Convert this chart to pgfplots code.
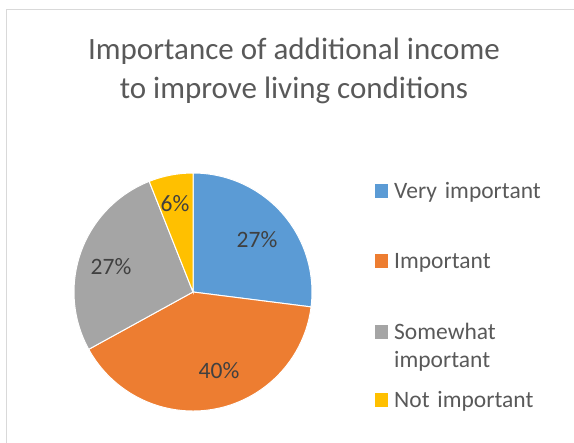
\documentclass[border=0pt]{standalone}
\usepackage{pgfplots}
\pgfplotsset{compat=1.18}
\usepackage{pgfplotstable}
\usepackage{fontspec}
\setmainfont{Carlito}
\hyphenpenalty=10000
\exhyphenpenalty=10000

\definecolor{vimp}{HTML}{5B9BD5}
\definecolor{imp}{HTML}{ED7D31}
\definecolor{swimp}{HTML}{A5A5A5}
\definecolor{nimp}{HTML}{FFC000}
\definecolor{titlegray}{HTML}{595959}
\definecolor{labelgray}{HTML}{404040}
\definecolor{framegray}{HTML}{D9D9D9}

\newcommand\titlefont{\fontsize{31bp}{38bp}\selectfont}
\newcommand\labelfont{\fontsize{23.5bp}{28bp}\selectfont}

% share (%), data label spot and legend baseline in pixels from top left
\pgfplotstableread{
name                   value lx  ly  legy col
{Very important}       27    257 247 198  vimp
{Important}            40    219 378 268  imp
{Somewhat important}   27    111 274 339  swimp
{Not important}        6     175 211 407  nimp
}\piedata

\begin{document}
\begin{tikzpicture}
\useasboundingbox (0,0) rectangle (574bp,443bp);
\begin{axis}[
    at={(0,0)}, anchor=origin,
    x=1bp, y=1bp,
    xmin=0, xmax=574,
    ymin=0, ymax=443,
    hide axis,
    clip=false,
]
    % chart area frame
    \draw[framegray, line width=1bp] (axis cs:6.5,-10) -- (axis cs:6.5,433.5) -- (axis cs:600,433.5);

    % title
    \node[titlegray, font=\titlefont, anchor=base] at (axis cs:294,384) {Importance of additional income};
    \node[titlegray, font=\titlefont, anchor=base] at (axis cs:294,345) {to improve living conditions};

    % slices, labels and legend from the table
    \def\startang{90}
    \pgfplotsforeachungrouped \i in {0,...,3}{%
        \pgfplotstablegetelem{\i}{name}\of\piedata \let\nm\pgfplotsretval
        \pgfplotstablegetelem{\i}{value}\of\piedata \let\val\pgfplotsretval
        \pgfplotstablegetelem{\i}{lx}\of\piedata \let\lx\pgfplotsretval
        \pgfplotstablegetelem{\i}{ly}\of\piedata \let\ly\pgfplotsretval
        \pgfplotstablegetelem{\i}{legy}\of\piedata \let\legy\pgfplotsretval
        \pgfplotstablegetelem{\i}{col}\of\piedata \let\col\pgfplotsretval
        \pgfmathsetmacro\endang{\startang-3.6*\val}
        \pgfmathsetmacro\Y{443-\ly}
        \pgfmathsetmacro\LY{443-\legy}
        \pgfmathsetmacro\sqtop{\LY+13.5}
        \edef\slice{%
            \noexpand\fill[\col, draw=white, line width=1bp]
                (axis cs:193,151) -- ++(\startang:119bp)
                arc[start angle=\startang, end angle=\endang, radius=119bp] -- cycle;
            \noexpand\node[labelgray, font=\noexpand\labelfont, anchor=base, inner sep=0pt]
                at (axis cs:\lx,\Y) {\val\noexpand\%};
            \noexpand\fill[\col] (axis cs:375,\LY) rectangle (axis cs:388,\sqtop);
            \noexpand\node[titlegray, font=\noexpand\labelfont, anchor=base west, inner sep=0pt,
                text width=160bp, align=left] at (axis cs:394,\LY) {\nm};
        }%
        \slice
        \let\startang\endang
    }
\end{axis}
\end{tikzpicture}
\end{document}
